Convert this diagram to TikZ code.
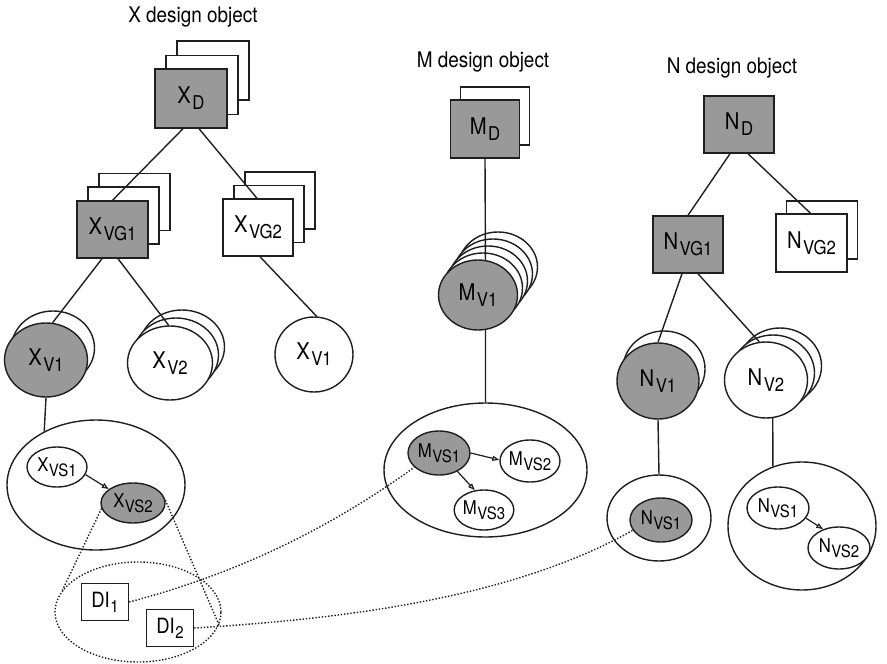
\documentclass[tikz,border=0pt]{standalone}
\usepackage{fontspec}
\setmainfont{TeX Gyre Heros}[FakeStretch=0.88]
\usetikzlibrary{shapes.geometric,arrows.meta}
\definecolor{shadegray}{gray}{0.6}
\definecolor{inkc}{gray}{0.12}
\newcommand\nlab[2]{\fontsize{23}{23}\selectfont #1\kern1.5pt\raisebox{-6pt}{\fontsize{19}{19}\selectfont #2}}
\newcommand\slab[2]{\fontsize{19}{19}\selectfont #1\kern0.5pt\raisebox{-5pt}{\fontsize{17}{17}\selectfont #2}}
\newcommand\dlab[2]{\fontsize{21}{21}\selectfont #1\kern0.5pt\raisebox{-5pt}{\fontsize{17}{17}\selectfont #2}}
\tikzset{
  ln/.style={line width=1.4pt, draw=inkc},
  sz/.style 2 args={minimum width=#1pt, minimum height=#2pt},
  bx/.style={rectangle, ln, fill=white, inner sep=0pt, minimum width=71pt, minimum height=57pt},
  sbx/.style={bx, fill=shadegray},
  el/.style={ellipse, ln, fill=white, inner sep=0pt},
  sel/.style={el, fill=shadegray},
  dots/.style={line width=1.4pt, draw=inkc, dash pattern=on 1.4pt off 1.8pt},
  arr/.style={ln, line width=1.2pt, -{Triangle[open,length=7pt,width=5pt]}},
  title/.style={font=\fontsize{21.5}{21.5}\selectfont, inner sep=0pt},
}
\begin{document}
\begin{tikzpicture}[x=1pt,y=-1pt]
\useasboundingbox (0,0) rectangle (887,664);

% titles
\node[title] (tX) at (193,17) {X design object};
\node[title] (tM) at (483,62) {M design object};
\node[title] (tN) at (732,68) {N design object};

% ---- X tree: back boxes
\node[bx, sz={72}{59}] (XDb2) at (213,70.5) {};
\node[bx, sz={72}{59}] (XDb1) at (202,85) {};
\node[sbx, sz={72}{59}] (XD) at (191,98.5) {\nlab{X}{D}};

\node[bx] (XVG1b2) at (134.5,202) {};
\node[bx] (XVG1b1) at (123.5,215.5) {};
\node[sbx] (XVG1) at (112.5,229.5) {\nlab{X}{VG1}};

\node[bx, sz={70}{57}] (XVG2b2) at (280,200.5) {};
\node[bx, sz={70}{57}] (XVG2b1) at (269,214) {};
\node[bx, sz={70}{57}] (XVG2) at (258,227.5) {\nlab{X}{VG2}};

% X versions
\node[el, sz={83}{74}] (XV1b) at (53,348) {};
\node[sel, sz={83}{74}] (XV1) at (46,360) {\nlab{X}{V1}};

\node[el, sz={85}{74}] (XV2b2) at (182,347) {};
\node[el, sz={85}{74}] (XV2b1) at (176,355) {};
\node[el, sz={85}{74}] (XV2) at (170,363) {\nlab{X}{V2}};

\node[el, sz={78}{75}] (XV1c) at (314,354.5) {\nlab{X}{V1}};

% X version set
\node[el, sz={178}{130}] (XB) at (96,485) {};
\node[el, sz={60}{40}] (XVS1) at (57,467) {\slab{X}{VS1}};
\node[sel, sz={64}{40}] (XVS2) at (133,503) {\slab{X}{VS2}};

% ---- M tree
\node[bx, sz={69}{58}] (MDb1) at (495,116) {};
\node[sbx, sz={69}{58}] (MD) at (485,129) {\nlab{M}{D}};

\node[el, sz={79}{70}] (MV1b4) at (498,267) {};
\node[el, sz={79}{70}] (MV1b3) at (493,274) {};
\node[el, sz={79}{70}] (MV1b2) at (488,281) {};
\node[el, sz={79}{70}] (MV1b1) at (483,288) {};
\node[sel, sz={79}{70}] (MV1) at (478,295) {\nlab{M}{V1}};

\node[el, sz={203}{134}] (MB) at (485.5,470) {};
\node[sel, sz={62}{44}] (MVS1) at (439,453) {\slab{M}{VS1}};
\node[el, sz={60}{42}] (MVS2) at (530,461) {\slab{M}{VS2}};
\node[el, sz={58}{40}] (MVS3) at (484,510) {\slab{M}{VS3}};

% ---- N tree
\node[sbx, sz={70}{57}] (ND) at (739,124.5) {\nlab{N}{D}};
\node[sbx, sz={70}{57}] (NVG1) at (688,244.5) {\nlab{N}{VG1}};
\node[bx, sz={71}{58}] (NVG2b1) at (822,230) {};
\node[bx, sz={71}{58}] (NVG2) at (811.5,243) {\nlab{N}{VG2}};

\node[el, sz={82}{76}] (NV1b) at (664,369) {};
\node[sel, sz={82}{76}] (NV1) at (658,381) {\nlab{N}{V1}};

\node[el, sz={83}{76}] (NV2b2) at (780,366) {};
\node[el, sz={83}{76}] (NV2b1) at (773,373) {};
\node[el, sz={83}{76}] (NV2) at (766,380) {\nlab{N}{V2}};

\node[el, sz={104}{86}] (NO1) at (659,518) {};
\node[sel, sz={62}{44}] (NVS1) at (661,520) {\slab{N}{VS1}};

\node[el, sz={148}{128}] (NO2) at (802,526) {};
\node[el, sz={62}{42}] (NVS1b) at (778,508) {\slab{N}{VS1}};
\node[el, sz={62}{42}] (NVS2) at (839,548) {\slab{N}{VS2}};

% ---- tree connectors
\draw[ln] ([xshift=-8pt]XD.south) -- (XVG1.north);
\draw[ln] ([xshift=8pt]XD.south) -- ([xshift=-1pt]XVG2.north);
\draw[ln] ([xshift=-10.5pt]XVG1.south) -- (XV1.80);
\draw[ln] ([xshift=5.5pt]XVG1.south) -- (XV2.92);
\draw[ln] ([xshift=2pt]XVG2.south) -- (XV1c.86);
\draw[ln] (XV1.south) -- (XB.134);

\draw[ln] (MD.south) -- (MV1.78);
\draw[ln] (MV1.-78) -- (MB.north);

\draw[ln] ([xshift=-9pt]ND.south) -- (NVG1.north);
\draw[ln] ([xshift=9pt]ND.south) -- ([xshift=-1pt]NVG2.north);
\draw[ln] ([xshift=-6pt]NVG1.south) -- (NV1.north);
\draw[ln] ([xshift=10pt]NVG1.south) -- (NV2.100);
\draw[ln] (NV1.south) -- (NO1.north);
\draw[ln] (NV2.-80) -- (NO2.116);

% ---- arrows inside version sets
\draw[arr] (XVS1.-15) -- (XVS2.150);
\draw[arr] (MVS1.east) -- (MVS2.178);
\draw[arr] (MVS1.-45) -- (MVS3.115);
\draw[arr] (NVS1b.-20) -- (NVS2.130);

% ---- design interfaces
\node[ellipse, dots, sz={166}{100}, inner sep=0pt] (DE) at (138,612) {};
\node[rectangle, ln, fill=white, inner sep=0pt, sz={47}{37}] (DI1) at (105,602) {\dlab{DI}{1}};
\node[rectangle, ln, fill=white, inner sep=0pt, sz={47}{37}] (DI2) at (170,628) {\dlab{DI}{2}};

\draw[dots] (XVS2.190) -- (DE.164);
\draw[dots] (XVS2.5) -- (DE.-9);
\draw[dots] (DI1.east) .. controls (228,576) and (322,534) .. (MVS1.210);
\draw[dots] (DI2.east) .. controls (344,619) and (513,598) .. (NVS1.200);
\end{tikzpicture}
\end{document}
